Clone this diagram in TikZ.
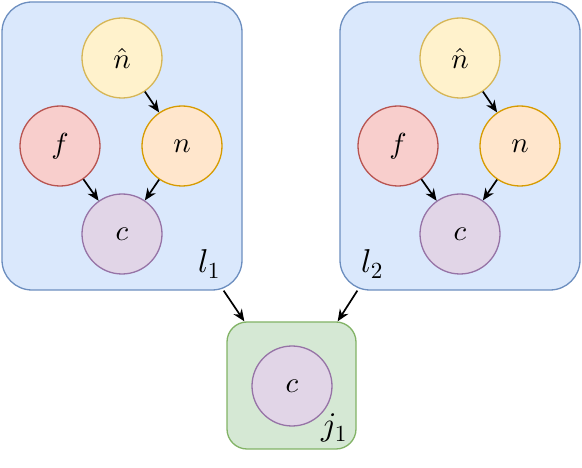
\documentclass[tikz,border=0pt]{standalone}
\usetikzlibrary{arrows.meta}
\DeclareFontShape{OML}{cmm}{m}{it}{<->cmmi10}{}
\DeclareFontShape{OML}{cmm}{b}{it}{<->cmmib10}{}
\DeclareFontShape{OT1}{cmr}{m}{n}{<->cmr10}{}
\DeclareFontShape{OT1}{cmr}{bx}{n}{<->cmbx10}{}
\definecolor{bluef}{HTML}{DAE8FC}\definecolor{blued}{HTML}{6C8EBF}
\definecolor{yelf}{HTML}{FFF2CC}\definecolor{yeld}{HTML}{D6B656}
\definecolor{redf}{HTML}{F8CECC}\definecolor{redd}{HTML}{B85450}
\definecolor{orf}{HTML}{FFE6CC}\definecolor{ord}{HTML}{D79B00}
\definecolor{purf}{HTML}{E1D5E7}\definecolor{purd}{HTML}{9673A6}
\definecolor{grf}{HTML}{D5E8D4}\definecolor{grd}{HTML}{82B366}
\begin{document}
\begin{tikzpicture}[x=1pt,y=-1pt,
  every node/.style={font=\fontsize{29}{33}\selectfont},
  var/.style={circle,draw,line width=1.3pt,minimum size=80pt,inner sep=0pt},
  hat/.style={var,fill=yelf,draw=yeld},
  fv/.style={var,fill=redf,draw=redd},
  nv/.style={var,fill=orf,draw=ord},
  cv/.style={var,fill=purf,draw=purd},
  layerbox/.style={draw=blued,fill=bluef,line width=1.3pt,rounded corners=30pt,minimum width=240pt,minimum height=288pt,inner sep=0pt},
  joinbox/.style={draw=grd,fill=grf,line width=1.3pt,rounded corners=20pt,minimum width=129pt,minimum height=127pt,inner sep=0pt},
  arr/.style={-{Stealth[length=12pt,width=10pt]},line width=1.7pt,black},
  lab/.style={inner sep=0pt,font=\fontsize{33}{37}\selectfont}]
\useasboundingbox (0,0) rectangle (582,468);
% left layer
\node[layerbox] (L1) at (122,146) {};
\node[hat] (h1) at (122,58) {$\hat{n}$};
\node[fv] (f1) at (60,146) {$f$};
\node[nv] (n1) at (182,146) {$n$};
\node[cv] (c1) at (122,234) {$c$};
\node[lab] (l1) at (209,264) {$l_1$};
\draw[arr] (h1) -- (n1);
\draw[arr] (f1) -- (c1);
\draw[arr] (n1) -- (c1);
% right layer
\node[layerbox] (L2) at (460,146) {};
\node[hat] (h2) at (460,58) {$\hat{n}$};
\node[fv] (f2) at (398,146) {$f$};
\node[nv] (n2) at (520,146) {$n$};
\node[cv] (c2) at (460,234) {$c$};
\node[lab] (l2) at (372,264) {$l_2$};
\draw[arr] (h2) -- (n2);
\draw[arr] (f2) -- (c2);
\draw[arr] (n2) -- (c2);
% join
\node[joinbox] (J) at (291.5,385.5) {};
\node[cv] (cj) at (292,386) {$c$};
\node[lab] (j1) at (334,428) {$j_1$};
\draw[arr] ([xshift=-19pt]L1.south east) -- ([xshift=18pt]J.north west);
\draw[arr] ([xshift=18pt]L2.south west) -- ([xshift=-19pt]J.north east);
\end{tikzpicture}
\end{document}
